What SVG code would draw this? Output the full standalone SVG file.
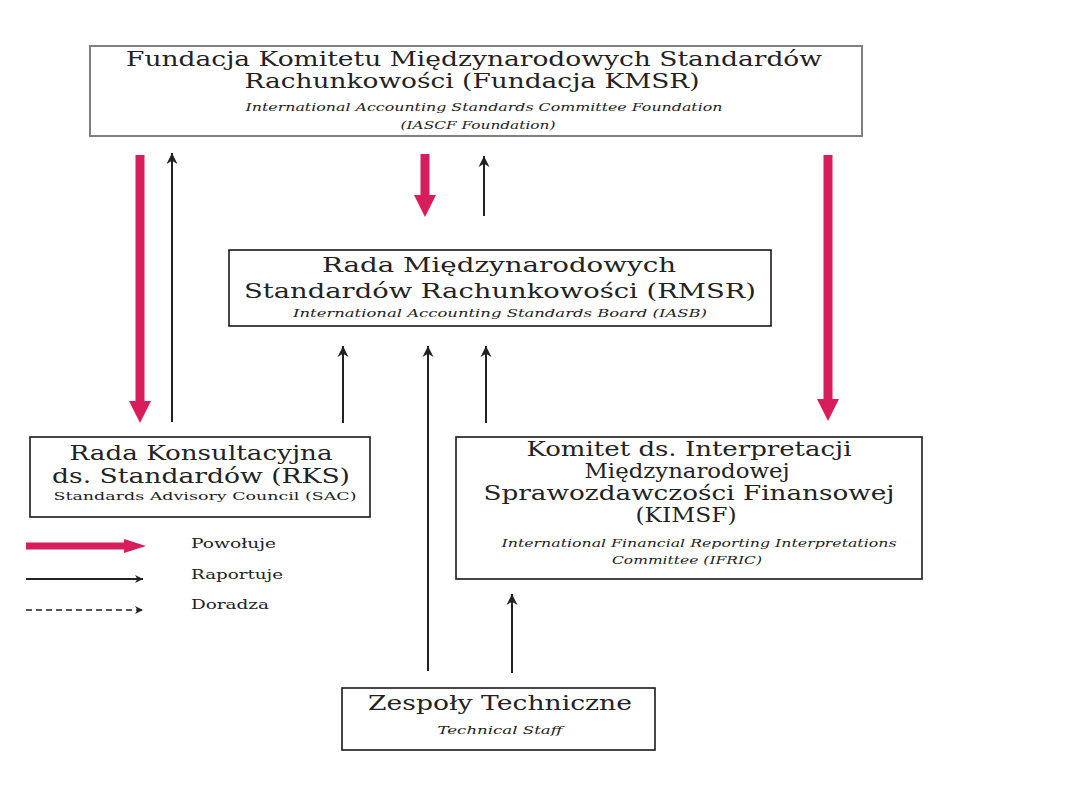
<svg xmlns="http://www.w3.org/2000/svg" width="1080" height="810" viewBox="0 0 1080 810">
<defs>
<style>
.box{fill:#fff;stroke:#1a1a1a;stroke-width:1.6}
.boxg{fill:#fff;stroke:#808080;stroke-width:2}
.t{font-family:"DejaVu Serif","Liberation Serif",serif;font-size:20px;fill:#222;text-anchor:middle}
.i{font-family:"DejaVu Serif","Liberation Serif",serif;font-style:italic;font-size:11px;fill:#222;text-anchor:middle}
.s{font-family:"DejaVu Serif","Liberation Serif",serif;font-size:11.5px;fill:#222;text-anchor:middle}
.lg{font-family:"DejaVu Serif","Liberation Serif",serif;font-size:13px;fill:#222}
.pink{stroke:#d81d5c;stroke-width:9;fill:none}
.thin{stroke:#222;stroke-width:2;fill:none}
.dash{stroke:#222;stroke-width:1.5;fill:none;stroke-dasharray:6 4}
</style>
<marker id="ah" viewBox="0 0 10 10" refX="10" refY="5" markerWidth="5.5" markerHeight="6" markerUnits="strokeWidth" orient="auto">
<path d="M0,0 L10,5 L0,10 L3,5 Z" fill="#222"/>
</marker>
<marker id="ah2" viewBox="0 0 10 10" refX="10" refY="5" markerWidth="14" markerHeight="8" markerUnits="userSpaceOnUse" orient="auto">
<path d="M0,0 L10,5 L0,10 L3,5 Z" fill="#222"/>
</marker>
</defs>
<rect width="1080" height="810" fill="#fff"/>
<g id="connectors">
<line class="pink" x1="140" y1="155" x2="140" y2="402"/>
<polygon points="129,401 151,401 140,423" fill="#d81d5c"/>
<line class="thin" x1="172" y1="422" x2="172" y2="153" marker-end="url(#ah)"/>
<line class="pink" x1="425" y1="154" x2="425" y2="196"/>
<polygon points="414,195 436,195 425,217" fill="#d81d5c"/>
<line class="thin" x1="484" y1="216" x2="484" y2="156" marker-end="url(#ah)"/>
<line class="pink" x1="828" y1="155" x2="828" y2="400"/>
<polygon points="817,399 839,399 828,421" fill="#d81d5c"/>
<line class="thin" x1="343" y1="423" x2="343" y2="346" marker-end="url(#ah)"/>
<line class="thin" x1="428" y1="671" x2="428" y2="346" marker-end="url(#ah)"/>
<line class="thin" x1="486" y1="423" x2="486" y2="346" marker-end="url(#ah)"/>
<line class="thin" x1="512" y1="673" x2="512" y2="594" marker-end="url(#ah)"/>
</g>
<g id="node-fundacja">
<rect class="boxg" x="90" y="46" width="772" height="90"/>
<text class="t" x="474" y="66" textLength="696" lengthAdjust="spacingAndGlyphs">Fundacja Komitetu Międzynarodowych Standardów</text>
<text class="t" x="472" y="88" textLength="455" lengthAdjust="spacingAndGlyphs">Rachunkowości (Fundacja KMSR)</text>
<text class="i" x="484" y="111" textLength="477" lengthAdjust="spacingAndGlyphs">International Accounting Standards Committee Foundation</text>
<text class="i" x="478" y="129" textLength="155" lengthAdjust="spacingAndGlyphs">(IASCF Foundation)</text>
</g>
<g id="node-rmsr">
<rect class="box" x="229" y="250" width="542" height="76"/>
<text class="t" x="499" y="272" textLength="354" lengthAdjust="spacingAndGlyphs">Rada Międzynarodowych</text>
<text class="t" x="500" y="298" textLength="512" lengthAdjust="spacingAndGlyphs">Standardów Rachunkowości (RMSR)</text>
<text class="i" x="500" y="317" textLength="414" lengthAdjust="spacingAndGlyphs">International Accounting Standards Board (IASB)</text>
</g>
<g id="node-rks">
<rect class="box" x="30" y="437" width="340" height="80"/>
<text class="t" x="201" y="460" textLength="263" lengthAdjust="spacingAndGlyphs">Rada Konsultacyjna</text>
<text class="t" x="201" y="483" textLength="298" lengthAdjust="spacingAndGlyphs">ds. Standardów (RKS)</text>
<text class="s" x="205" y="500" textLength="303" lengthAdjust="spacingAndGlyphs">Standards Advisory Council (SAC)</text>
</g>
<g id="node-kimsf">
<rect class="box" x="456" y="437" width="466" height="142"/>
<text class="t" x="689" y="456" textLength="325" lengthAdjust="spacingAndGlyphs">Komitet ds. Interpretacji</text>
<text class="t" x="687" y="478" textLength="205" lengthAdjust="spacingAndGlyphs">Międzynarodowej</text>
<text class="t" x="689" y="500" textLength="411" lengthAdjust="spacingAndGlyphs">Sprawozdawczości Finansowej</text>
<text class="t" x="686" y="522" textLength="101" lengthAdjust="spacingAndGlyphs">(KIMSF)</text>
<text class="i" x="699" y="547" textLength="395" lengthAdjust="spacingAndGlyphs">International Financial Reporting Interpretations</text>
<text class="i" x="687" y="564" textLength="150" lengthAdjust="spacingAndGlyphs">Committee (IFRIC)</text>
</g>
<g id="node-technical">
<rect class="box" x="342" y="688" width="313" height="62"/>
<text class="t" x="500" y="710" textLength="264" lengthAdjust="spacingAndGlyphs">Zespoły Techniczne</text>
<text class="i" x="500" y="734" textLength="125" lengthAdjust="spacingAndGlyphs">Technical Staff</text>
</g>
<g id="legend">
<line x1="26" y1="546" x2="126" y2="546" stroke="#d81d5c" stroke-width="7"/>
<polygon points="124,539 146,546 124,553" fill="#d81d5c"/>
<line class="thin" x1="26" y1="579" x2="143" y2="579" stroke-width="1.5" marker-end="url(#ah2)"/>
<line class="dash" x1="26" y1="610" x2="143" y2="610" marker-end="url(#ah2)"/>
<text class="lg" x="191" y="548" textLength="85" lengthAdjust="spacingAndGlyphs">Powołuje</text>
<text class="lg" x="191" y="579" textLength="92" lengthAdjust="spacingAndGlyphs">Raportuje</text>
<text class="lg" x="191" y="609" textLength="78" lengthAdjust="spacingAndGlyphs">Doradza</text>
</g>
</svg>
